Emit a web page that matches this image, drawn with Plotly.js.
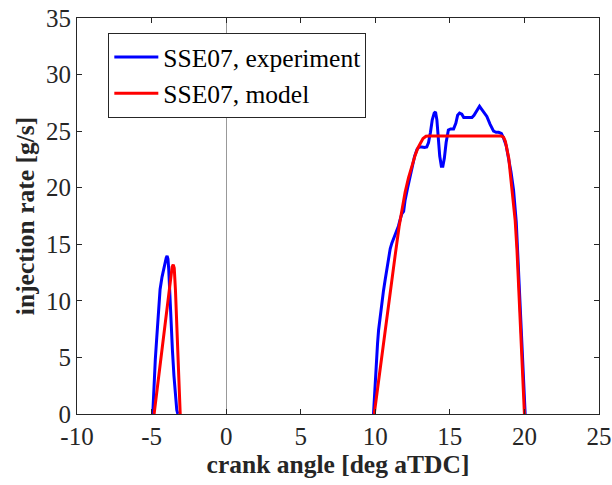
<!DOCTYPE html>
<html>
<head>
<meta charset="utf-8">
<script src="https://cdn.plot.ly/plotly-3.0.1.min.js"></script>
<style>html,body{margin:0;padding:0;background:#fff;}#chart{width:612px;height:485px;}</style>
</head>
<body>
<div id="chart"></div>
<script>
// Experiment: pilot injection
const expPilotX = [-4.92, -4.85, -4.75, -4.65, -4.55, -4.43, -4.3, -4.2, -4.1, -4.02, -3.96, -3.9, -3.85, -3.8, -3.72, -3.6, -3.5, -3.4, -3.31, -3.24];
const expPilotY = [0, 2.2, 4.8, 6.8, 9.0, 11.0, 12.1, 12.8, 13.4, 13.8, 13.97, 13.7, 12.8, 11.2, 8.8, 5.6, 3.4, 1.5, 0.35, 0];
// Experiment: main injection
const expMainX = [9.88, 9.95, 10.05, 10.15, 10.22, 10.33, 10.44, 10.55, 10.66, 10.78, 10.89, 11.0, 11.11, 11.25, 11.4, 11.55, 11.67, 11.78, 11.9, 12.0, 12.17, 12.34, 12.5, 12.63, 12.8, 12.95, 13.12, 13.3, 13.45, 13.57, 13.7, 13.82, 13.95, 14.04, 14.13, 14.22, 14.32, 14.43, 14.53, 14.63, 14.75, 14.9, 15.05, 15.25, 15.4, 15.52, 15.65, 15.8, 15.93, 16.1, 16.3, 16.48, 16.62, 16.78, 16.9, 16.99, 17.1, 17.25, 17.48, 17.7, 17.93, 18.1, 18.27, 18.45, 18.6, 18.78, 18.93, 19.1, 19.27, 19.37, 19.45, 19.55, 19.65, 19.76, 19.85, 19.94, 20.05];
const expMainY = [0, 1.8, 4.0, 6.2, 7.4, 8.7, 9.8, 10.9, 11.85, 12.9, 13.9, 14.6, 15.1, 15.6, 16.0, 16.6, 17.2, 17.7, 17.9, 18.9, 20.0, 21.0, 22.0, 22.75, 23.4, 23.6, 23.6, 23.55, 23.6, 24.0, 24.9, 26.0, 26.6, 26.7, 26.0, 24.5, 22.8, 21.9, 21.9, 22.6, 24.0, 25.1, 25.2, 25.2, 25.7, 26.4, 26.6, 26.5, 26.2, 26.2, 26.2, 26.2, 26.4, 26.8, 27.1, 27.2, 27.0, 26.7, 26.3, 25.6, 25.0, 24.9, 24.9, 24.8, 24.4, 23.7, 22.75, 21.4, 19.8, 18.5, 17.0, 14.2, 11.3, 8.3, 5.5, 2.4, 0];
// Model: pilot injection
const modPilotX = [-4.83, -4.4, -4.0, -3.75, -3.62, -3.55, -3.48, -3.4, -3.25, -3.08];
const modPilotY = [0, 4.8, 9.3, 12.1, 13.0, 13.2, 12.9, 11.0, 5.5, 0];
// Model: main injection
const modMainX = [9.93, 10.2, 10.5, 10.77, 11.0, 11.33, 11.6, 11.8, 12.0, 12.23, 12.45, 12.68, 12.85, 13.0, 13.2, 13.4, 13.6, 18.45, 18.6, 18.72, 18.83, 18.95, 19.05, 19.17, 19.27, 19.38, 19.5, 19.7, 19.85, 20.0];
const modMainY = [0, 2.8, 5.9, 8.3, 10.6, 14.0, 16.6, 18.3, 19.6, 20.9, 22.0, 22.9, 23.5, 23.9, 24.35, 24.55, 24.58, 24.58, 24.45, 24.1, 23.5, 22.6, 21.3, 19.8, 18.3, 17.1, 14.5, 8.9, 4.6, 0];

const xTicks = [-10, -5, 0, 5, 10, 15, 20, 25];
const yTicks = [0, 5, 10, 15, 20, 25, 30, 35];

const serif = "Liberation Serif";

const traces = [
  {x: expPilotX.concat([null], expMainX), y: expPilotY.concat([null], expMainY),
   mode: 'lines', name: 'SSE07, experiment', line: {color: '#0000ff', width: 3}, connectgaps: false},
  {x: modPilotX.concat([null], modMainX), y: modPilotY.concat([null], modMainY),
   mode: 'lines', name: 'SSE07, model', line: {color: '#ff0000', width: 3}, connectgaps: false}
];

const layout = {
  width: 612, height: 485,
  margin: {l: 77, r: 13, t: 18, b: 71},
  paper_bgcolor: '#fff', plot_bgcolor: '#fff',
  font: {family: serif, size: 25, color: '#262626'},
  showlegend: true,
  legend: {x: 0.06, y: 0.962, xanchor: 'left', yanchor: 'top',
           bgcolor: '#fff', bordercolor: '#262626', borderwidth: 1,
           font: {family: serif, size: 25.5, color: '#000'},
           tracegroupgap: 0, itemwidth: 44},
  xaxis: {range: [-10, 25], tickvals: xTicks, ticktext: xTicks.map(String),
          ticks: 'inside', ticklen: 5, tickcolor: '#262626', showline: true, linecolor: '#262626', linewidth: 1,
          mirror: 'allticks', showgrid: false, zeroline: true, zerolinecolor: '#999', zerolinewidth: 1,
          tickfont: {family: serif, size: 25, color: '#262626'},
          title: {text: '<b>crank angle [deg aTDC]</b>', font: {family: serif, size: 25.5, color: '#262626'}, standoff: 6}},
  yaxis: {range: [0, 35], tickvals: yTicks, ticktext: yTicks.map(String),
          ticks: 'inside', ticklen: 5, tickcolor: '#262626', showline: true, linecolor: '#262626', linewidth: 1,
          mirror: 'allticks', showgrid: false, zeroline: false,
          tickfont: {family: serif, size: 25, color: '#262626'},
          title: {text: '<b>injection rate [g/s]</b>', font: {family: serif, size: 25.5, color: '#262626'}, standoff: 4}}
};

Plotly.newPlot('chart', traces, layout, {displayModeBar: false, staticPlot: true});
</script>
</body>
</html>
